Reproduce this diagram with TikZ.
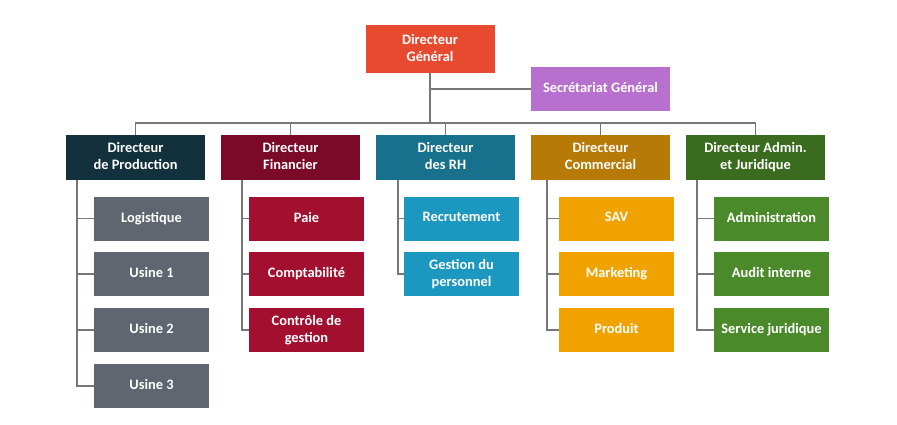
\documentclass[tikz,border=0pt]{standalone}
\usepackage{fontspec}
\setmainfont{Carlito}
\newcommand\ms{\rule[-3pt]{0pt}{12pt}}
\definecolor{cdg}{HTML}{E84A2F}
\definecolor{csec}{HTML}{B870CF}
\definecolor{cprod}{HTML}{12313D}
\definecolor{cfin}{HTML}{7A0A27}
\definecolor{crh}{HTML}{17708C}
\definecolor{ccom}{HTML}{B77A06}
\definecolor{cadm}{HTML}{3B6B1E}
\definecolor{cprodc}{HTML}{5F6670}
\definecolor{cfinc}{HTML}{A3102F}
\definecolor{crhc}{HTML}{1C97C0}
\definecolor{ccomc}{HTML}{F0A200}
\definecolor{cadmc}{HTML}{4B8A2A}
\definecolor{cline}{HTML}{777777}
\tikzset{
  box/.style={draw=none, text=white, font=\fontsize{14.4}{17}\selectfont\bfseries,
    align=center, inner sep=0pt, anchor=center},
  topbox/.style={box, minimum width=129pt, minimum height=48pt},
  dirbox/.style={box, minimum width=139pt, minimum height=45pt},
  subbox/.style={box, minimum width=115pt, minimum height=44pt},
  link/.style={draw=cline, line width=1.5pt}
}
\begin{document}
\begin{tikzpicture}[x=1pt,y=-1pt]
\useasboundingbox[fill=white] (0,0) rectangle (897,424);
% top
\node[topbox, fill=cdg] (dg) at (430,49) {\ms Directeur\\\ms Général};
\node[box, minimum width=139pt, minimum height=44pt, fill=csec] (sec) at (600.5,89) {\ms Secrétariat Général};
\coordinate (bar) at (430,123);
% directors
\node[dirbox, fill=cprod] (dp) at (135.5,157.5) {\ms Directeur\\\ms de Production};
\node[dirbox, fill=cfin] (df) at (290.5,157.5) {\ms Directeur\\\ms Financier};
\node[dirbox, fill=crh] (dr) at (445.5,157.5) {\ms Directeur\\\ms des RH};
\node[dirbox, fill=ccom] (dc) at (600.5,157.5) {\ms Directeur\\\ms Commercial};
\node[dirbox, fill=cadm] (da) at (755.5,157.5) {\ms Directeur Admin.\\\ms et Juridique};
% children
\node[subbox, fill=cprodc] (p1) at (151.5,218.5) {\ms Logistique};
\node[subbox, fill=cprodc] (p2) at (151.5,274) {\ms Usine 1};
\node[subbox, fill=cprodc] (p3) at (151.5,330) {\ms Usine 2};
\node[subbox, fill=cprodc] (p4) at (151.5,386) {\ms Usine 3};
\node[subbox, fill=cfinc] (f1) at (306.5,218.5) {\ms Paie};
\node[subbox, fill=cfinc] (f2) at (306.5,274) {\ms Comptabilité};
\node[subbox, fill=cfinc] (f3) at (306.5,330) {\ms Contrôle de\\\ms gestion};
\node[subbox, fill=crhc] (r1) at (461.5,218.5) {\ms Recrutement};
\node[subbox, fill=crhc] (r2) at (461.5,274) {\ms Gestion du\\\ms personnel};
\node[subbox, fill=ccomc] (c1) at (616.5,218.5) {\ms SAV};
\node[subbox, fill=ccomc] (c2) at (616.5,274) {\ms Marketing};
\node[subbox, fill=ccomc] (c3) at (616.5,330) {\ms Produit};
\node[subbox, fill=cadmc] (a1) at (771.5,218.5) {\ms Administration};
\node[subbox, fill=cadmc] (a2) at (771.5,274) {\ms Audit interne};
\node[subbox, fill=cadmc] (a3) at (771.5,330) {\ms Service juridique};
% connectors
\draw[link] (dg.south) -- (bar);
\draw[link] (dg.south) |- (sec.west);
\foreach \d in {dp,df,dr,dc,da} \draw[link] (bar) -| (\d.north);
\foreach \c in {p1,p2,p3,p4} \draw[link] ([xshift=11pt]dp.south west) |- (\c.west);
\foreach \c in {f1,f2,f3} \draw[link] ([xshift=21pt]df.south west) |- (\c.west);
\foreach \c in {r1,r2} \draw[link] ([xshift=22pt]dr.south west) |- (\c.west);
\foreach \c in {c1,c2,c3} \draw[link] ([xshift=16pt]dc.south west) |- (\c.west);
\foreach \c in {a1,a2,a3} \draw[link] ([xshift=11pt]da.south west) |- (\c.west);
\end{tikzpicture}
\end{document}
